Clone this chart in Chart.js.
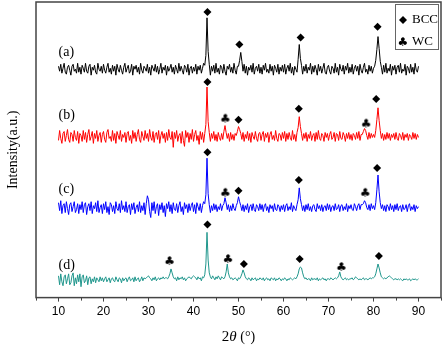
<!DOCTYPE html>
<html>
<head>
<meta charset="utf-8">
<script src="https://cdn.jsdelivr.net/npm/chart.js@4/dist/chart.umd.min.js"></script>
<style>
  html, body { margin: 0; padding: 0; background: #fff; }
  #wrap { width: 444px; height: 346px; }
</style>
</head>
<body>
<div id="wrap"><canvas id="xrd"></canvas></div>
<script>
// 2theta grid: 10..90 deg, 0.25 deg step (20 values per row = 5 deg)
const ANGLE_START = 10;
const ANGLE_STEP = 0.25;
const xTicks = [10, 20, 30, 40, 50, 60, 70, 80, 90];

const sampleNames = ['(a)', '(b)', '(c)', '(d)'];
const sampleColors = ['#000000', '#ff0000', '#0000ff', '#1f968c'];
const sampleOffsets = [231, 163, 91, 18];

// intensity (a.u.)
const traceA = [
  3,-2,5,-4,1,6,-3,-5,2,4,-1,-6,3,5,-2,0,-4,6,-3,2,
  -5,4,1,-3,6,-2,-4,3,5,-6,2,-1,4,-3,-5,6,0,-2,3,-4,
  5,-1,-4,2,6,-3,1,-5,4,-2,3,-6,5,0,-3,4,-1,-5,2,6,
  -3,1,4,-4,-2,5,-6,3,0,4,-3,2,-5,6,-1,-4,3,1,-2,5,
  -4,2,-6,4,1,-2,5,-3,3,-5,0,6,-4,2,-1,4,-6,3,-2,1,
  5,-3,2,-5,4,0,-4,6,-2,3,-1,-5,4,2,-3,5,-6,1,3,-4,
  2,-2,5,-5,3,-1,4,-4,1,6,4,14,52,18,5,-6,3,-2,4,-4,
  6,-3,1,-5,4,2,-4,5,-2,-6,3,0,5,-3,2,-4,6,-1,-5,3,
  3,9,17,8,-2,5,-4,3,-6,2,-1,4,-3,6,-5,1,3,-2,5,-4,
  2,-5,4,-1,6,-3,0,-4,5,-2,3,-6,4,1,-3,5,-5,2,-2,4,
  -3,5,-5,1,4,-2,6,-4,2,-6,3,0,-3,10,25,11,4,-5,3,-2,
  5,-4,2,-1,6,-5,3,-3,4,0,-6,5,-2,3,-4,1,6,-3,-5,2,
  4,-2,-5,3,1,-4,6,-3,2,-6,5,0,-2,4,-5,3,-1,6,-4,2,
  -3,5,-5,1,4,-2,3,-6,5,-1,-4,2,6,-3,0,-5,4,-2,3,-4,
  1,3,9,20,33,21,8,2,-5,4,-3,6,-4,1,-2,5,-6,3,-1,4,
  -5,2,4,-3,6,-4,0,-2,5,-6,3,1,-4,5,-3,2,-5,6,-1,-3,
  3
];
const traceB = [
  -4,6,-2,-7,3,5,-5,1,7,-3,-6,4,2,-5,6,-1,-4,5,-7,3,
  1,-5,6,-3,4,-6,2,7,-4,0,5,-7,3,-2,6,-5,1,4,-6,2,
  5,-3,-6,4,7,-2,0,-5,6,-4,3,-7,5,1,-3,6,-5,2,-1,4,
  -6,3,5,-4,1,-7,6,-2,4,-5,2,7,-3,-6,5,0,-4,6,-2,3,
  -5,7,-1,-4,5,-6,2,4,-3,6,-7,1,5,-2,3,-6,4,-4,7,-1,
  -3,5,-11,4,-2,6,-5,1,3,-7,5,-4,-10,6,-1,4,-6,3,-3,7,
  -5,2,6,-4,1,-8,5,-3,4,-6,3,12,50,15,4,-5,3,-2,5,-4,
  2,-5,4,-1,-4,3,-3,5,11,4,-2,3,-5,4,-3,2,-4,3,1,5,
  10,7,3,-3,4,-5,2,-2,5,-4,3,-6,4,0,-3,5,-2,-5,3,4,
  -4,2,5,-5,3,-1,4,-6,2,5,-3,1,-4,6,-2,-5,3,2,-4,4,
  -2,5,-5,3,-3,4,-1,-4,6,-3,2,-5,4,9,20,10,3,-4,3,-2,
  4,-5,2,-2,5,-4,1,3,-5,4,-3,6,-2,-4,3,1,-5,4,-1,3,
  -4,2,5,-3,-1,4,-5,3,2,-4,5,-2,-3,4,1,-5,3,-2,4,-3,
  2,-4,3,1,-3,4,-2,5,-4,2,2,5,8,6,1,-3,4,-2,3,-1,
  2,-1,6,17,29,16,6,-2,3,-4,2,-3,4,-2,3,-4,2,-1,3,-3,
  4,-2,-4,3,1,-3,4,-4,2,-1,3,-4,2,0,-3,4,-2,3,-3,2,
  -1
];
const traceC = [
  5,-3,7,-6,2,4,-5,6,-1,-7,3,5,-4,1,6,-5,-2,4,-6,3,
  -2,6,-5,3,5,-7,1,4,-3,6,-6,2,-1,5,-4,7,-5,0,3,-6,
  4,-2,6,-5,1,-7,5,3,-4,2,-6,6,-1,-3,4,-5,7,-2,2,-4,
  6,-5,1,3,-7,4,-2,5,-6,0,3,-4,6,-5,2,-3,5,-7,4,12,
  8,-4,-10,5,-3,6,-6,1,4,-8,3,-2,5,-5,2,-9,4,-1,6,-4,
  3,-6,5,-2,-3,4,-5,2,6,-4,1,-7,5,-1,3,-5,4,-3,2,5,
  -4,3,-6,5,1,-3,4,-5,2,6,4,13,50,14,3,-5,2,-3,4,-2,
  3,-4,1,-2,4,-3,2,4,10,5,-2,3,-4,2,-3,4,-1,-3,2,5,
  11,6,2,-3,3,-4,2,-2,4,-5,1,3,-3,4,-2,-4,3,1,-3,4,
  -2,3,-4,2,4,-3,1,-5,3,-1,2,-4,4,-2,-3,3,1,-4,2,-2,
  3,-4,2,4,-3,1,-2,5,-4,2,-1,-3,3,8,20,9,3,-3,2,-4,
  3,-2,4,-3,1,-4,2,3,-2,-4,4,-1,2,-3,3,-4,1,2,-3,4,
  -2,3,-4,1,2,-3,4,-2,-1,3,-4,2,3,-3,1,-2,4,-4,2,-1,
  3,-2,-3,4,1,-3,2,4,-2,3,3,4,7,5,0,-2,3,-3,4,-1,
  2,-2,5,18,33,16,5,-1,3,-3,2,-4,3,1,-3,4,-2,2,-4,3,
  -2,4,-3,1,2,-4,3,-2,-1,3,-4,2,4,-3,1,-2,3,-4,2,-1,
  1
];
const traceD = [
  4,-5,6,-2,-6,3,5,-4,1,6,-5,-3,4,7,-6,2,-4,5,-2,6,
  -7,3,5,-3,-1,4,-5,2,3,-4,1,-2,3,-3,2,0,-2,3,-1,2,
  -2,1,3,-2,0,2,-3,1,2,-1,-2,3,0,-2,2,1,-3,2,-1,1,
  2,-2,1,3,-1,0,2,-2,3,-1,1,2,-2,0,3,-1,2,1,2,3,
  4,2,1,-1,2,0,3,-1,1,2,0,2,1,3,1,2,2,1,3,6,
  11,7,3,1,2,-1,3,0,2,1,3,0,2,-1,1,2,3,2,1,3,
  4,3,2,0,3,1,2,-1,3,2,5,16,48,20,7,3,1,4,2,0,
  3,1,4,2,0,3,2,1,3,8,16,7,3,1,2,0,1,2,1,-1,
  2,1,3,6,10,7,3,1,0,2,1,-1,2,0,1,2,-1,1,0,2,
  1,0,2,-1,1,2,0,1,-1,2,1,0,2,-1,1,0,2,1,-1,1,
  0,2,1,-1,1,0,2,1,0,1,2,1,3,6,11,13,12,7,3,1,
  2,0,1,1,-1,2,0,1,1,0,2,-1,1,0,1,2,0,1,-1,1,
  1,0,2,1,0,1,2,1,2,4,8,3,1,0,1,2,0,1,0,1,
  1,2,0,1,3,2,1,0,1,0,1,2,0,1,1,0,1,2,1,2,
  2,3,6,11,16,12,7,3,2,1,2,1,2,3,4,3,2,1,0,1,
  1,0,1,0,1,0,-1,1,0,1,0,0,1,-1,0,1,0,1,0,0,
  1
];
const traces = [traceA, traceB, traceC, traceD];

// phase markers [2theta, height]
const bccMarks = [
  [43.1, 289], [50.2, 256], [63.8, 263], [80.9, 274],
  [43.1, 218], [50.0, 180], [63.4, 191], [80.6, 201],
  [43.1, 147], [50.0, 108], [63.4, 119], [80.8, 131],
  [43.1, 74], [51.2, 34], [63.6, 39], [81.2, 42]
];
const wcMarks = [
  [47.1, 181], [78.4, 176],
  [47.1, 106], [78.2, 106],
  [34.7, 37], [47.7, 39], [72.9, 31]
];
// label heights for (a)..(d)
const nameHeights = [248, 184, 110, 33];

function clubImage() {
  const c = document.createElement('canvas');
  c.width = 12; c.height = 12;
  const g = c.getContext('2d');
  g.fillStyle = '#000';
  g.font = '12px "DejaVu Sans"';
  g.textAlign = 'center';
  g.textBaseline = 'middle';
  g.fillText('\u2663', 6, 6.5);
  return c;
}
const club = clubImage();

const datasets = traces.map((t, k) => ({
  type: 'line',
  label: sampleNames[k],
  data: t.map((v, i) => ({ x: ANGLE_START + i * ANGLE_STEP, y: v + sampleOffsets[k] })),
  borderColor: sampleColors[k],
  borderWidth: 1,
  pointRadius: 0,
  tension: 0
}));
datasets.push({
  type: 'scatter', label: 'BCC',
  data: bccMarks.map(p => ({ x: p[0], y: p[1] })),
  pointStyle: 'rectRot', radius: 4, backgroundColor: '#000', borderColor: '#000', borderWidth: 0
});
datasets.push({
  type: 'scatter', label: 'WC',
  data: wcMarks.map(p => ({ x: p[0], y: p[1] })),
  pointStyle: club, radius: 6
});

const decor = {
  id: 'decor',
  afterDraw(chart) {
    const { ctx, chartArea: a, scales } = chart;
    const xs = scales.x, ys = scales.y;
    ctx.save();
    // frame
    ctx.strokeStyle = '#444';
    ctx.lineWidth = 1.5;
    ctx.strokeRect(a.left, a.top, a.right - a.left, a.bottom - a.top);
    // minor ticks
    ctx.lineWidth = 1;
    for (let v = 5; v <= 95; v += 10) {
      const px = Math.round(xs.getPixelForValue(v)) + 0.5;
      ctx.beginPath(); ctx.moveTo(px, a.bottom); ctx.lineTo(px, a.bottom + 3); ctx.stroke();
    }
    // sample names
    ctx.fillStyle = '#000';
    ctx.font = '14px "Liberation Serif"';
    ctx.textAlign = 'left';
    ctx.textBaseline = 'middle';
    sampleNames.forEach((n, k) => {
      ctx.fillText(n, xs.getPixelForValue(10), ys.getPixelForValue(nameHeights[k]));
    });
    // legend
    const lx = a.right - 46, ly = a.top + 2;
    ctx.strokeStyle = '#666';
    ctx.lineWidth = 1;
    ctx.strokeRect(lx + 0.5, ly + 0.5, 43, 45);
    ctx.fillStyle = '#000';
    Chart.helpers.drawPoint(ctx, { pointStyle: 'rectRot', radius: 4, rotation: 0, borderWidth: 0 }, lx + 8, ly + 16);
    ctx.drawImage(club, lx + 2, ly + 32);
    ctx.font = '13px "Liberation Serif"';
    ctx.fillText('BCC', lx + 17, ly + 16);
    ctx.fillText('WC', lx + 17, ly + 38);
    // axis titles
    ctx.font = '14px "Liberation Serif"';
    ctx.save();
    ctx.translate(13, (a.top + a.bottom) / 2);
    ctx.rotate(-Math.PI / 2);
    ctx.textAlign = 'center';
    ctx.fillText('Intensity(a.u.)', 0, 0);
    ctx.restore();
    const parts = [['2', '15px "Liberation Serif"'], ['\u03b8', 'italic 15px "Liberation Serif"'], [' (\u00b0)', '14px "Liberation Serif"']];
    let w = 0;
    parts.forEach(p => { ctx.font = p[1]; w += ctx.measureText(p[0]).width; });
    let tx = (a.left + a.right) / 2 - w / 2;
    ctx.textAlign = 'left';
    parts.forEach(p => { ctx.font = p[1]; ctx.fillText(p[0], tx, 337); tx += ctx.measureText(p[0]).width; });
    ctx.restore();
  }
};

new Chart(document.getElementById('xrd'), {
  data: { datasets },
  options: {
    responsive: true,
    maintainAspectRatio: false,
    animation: false,
    layout: { autoPadding: false, padding: { left: 36, top: 2, right: 3, bottom: 24 } },
    plugins: { legend: { display: false }, tooltip: { enabled: false } },
    scales: {
      x: {
        type: 'linear', min: 5, max: 95,
        afterBuildTicks: s => { s.ticks = xTicks.map(v => ({ value: v })); },
        ticks: { color: '#000', font: { family: 'Liberation Sans', size: 12 }, padding: 3, maxRotation: 0 },
        grid: { drawOnChartArea: false, tickLength: 4, tickColor: '#444', tickWidth: 1 },
        border: { display: false }
      },
      y: { display: false, min: 0, max: 299 }
    }
  },
  plugins: [decor]
});
</script>
</body>
</html>
